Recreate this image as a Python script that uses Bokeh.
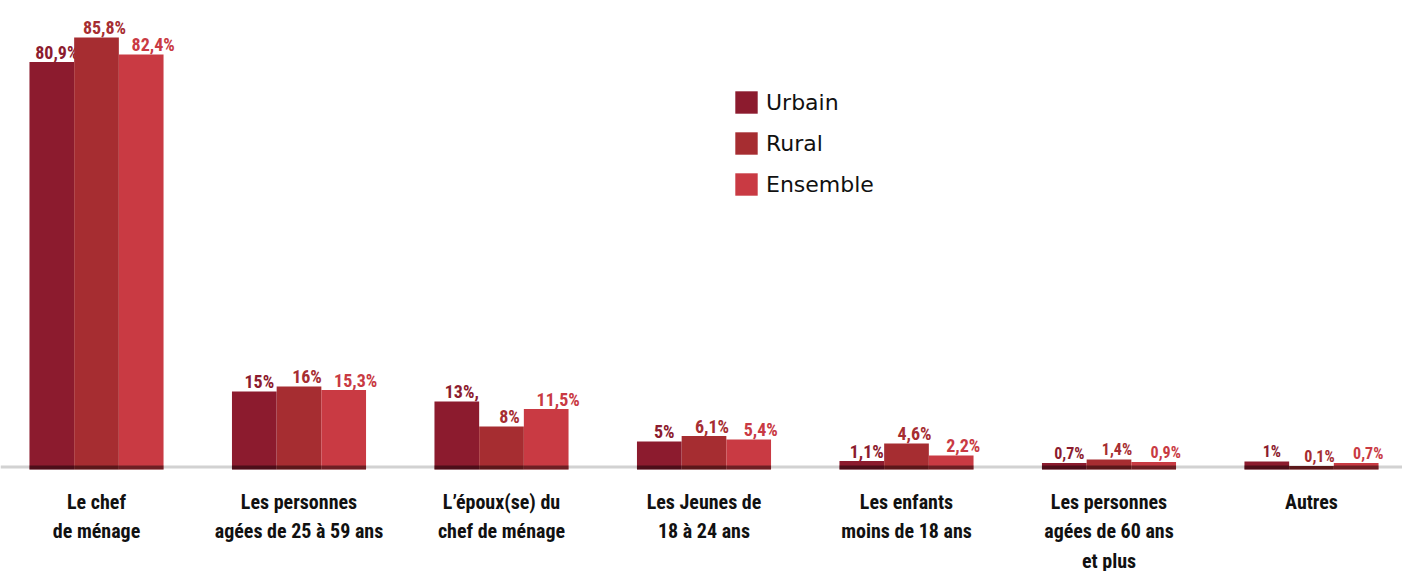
from bokeh.plotting import figure
from bokeh.models import Range1d, ColumnDataSource, Legend, LegendItem, Span
from bokeh.core.properties import value
from bokeh.embed import file_html
from bokeh.resources import INLINE

# ---------------- data ----------------
categories = [
    "Le chef\nde ménage",
    "Les personnes\nagées de 25 à 59 ans",
    "L’époux(se) du\nchef de ménage",
    "Les Jeunes de\n18 à 24 ans",
    "Les enfants\nmoins de 18 ans",
    "Les personnes\nagées de 60 ans\net plus",
    "Autres",
]
series = ["Urbain", "Rural", "Ensemble"]
urbain = [80.9, 15, 13, 5, 1.1, 0.7, 1]
rural = [85.8, 16, 8, 6.1, 4.6, 1.4, 0.1]
ensemble = [82.4, 15.3, 11.5, 5.4, 2.2, 0.9, 0.7]
urbain_labels = ["80,9%", "15%", "13%,", "5%", "1,1%", "0,7%", "1%"]
rural_labels = ["85,8%", "16%", "8%", "6,1%", "4,6%", "1,4%", "0,1%"]
ensemble_labels = ["82,4%", "15,3%", "11,5%", "5,4%", "2,2%", "0,9%", "0,7%"]

# ---------------- styles ----------------
colors = ["#8c1b2e", "#a62d31", "#c93a43"]
label_dx = [5, 8, 12]
COND = "Roboto Condensed"
BAR_W = 0.2207
BAR_BOTTOM = -0.6

p = figure(
    width=1402, height=571,
    x_range=Range1d(-0.4741, 6.4494),
    y_range=Range1d(-21.0, 93.2),
    output_backend="svg", toolbar_location=None,
    min_border=0, outline_line_color=None,
)
p.axis.visible = False
p.grid.visible = False
p.background_fill_color = "white"

# baseline
p.add_layout(Span(location=-0.1, dimension="width", line_color="#d2d2d2",
                  line_width=3, level="underlay"))

values = [urbain, rural, ensemble]
labels = [urbain_labels, rural_labels, ensemble_labels]
idx = list(range(len(categories)))
legend_items = []
for s, (name, vals, labs, col) in enumerate(zip(series, values, labels, colors)):
    xs = [i + (s - 1) * BAR_W for i in idx]
    sizes = ["18px" if i < 5 else "16px" for i in idx]
    src = ColumnDataSource(dict(x=xs, top=vals, lab=labs, size=sizes,
                                band=[min(v, 0.2) for v in vals]))
    r = p.vbar(x="x", top="top", bottom=BAR_BOTTOM, width=BAR_W, source=src,
               fill_color=col, line_color=None)
    p.vbar(x="x", top="band", bottom=BAR_BOTTOM, width=BAR_W, source=src,
           fill_color="black", fill_alpha=0.45, line_color=None)
    p.text(x="x", y="top", text="lab", source=src, x_offset=label_dx[s], y_offset=-10,
           text_align="center", text_baseline="alphabetic",
           text_font=value(COND), text_font_style="bold",
           text_font_size="size", text_color=col)
    legend_items.append(LegendItem(label=name, renderers=[r]))

# category labels (one text per line)
cx, cy, ct, coff = [], [], [], []
for i, c in enumerate(categories):
    for k, line in enumerate(c.split("\n")):
        cx.append(i)
        cy.append(0)
        ct.append(line)
        coff.append(35 + 29.5 * k)
csrc = ColumnDataSource(dict(x=cx, y=cy, t=ct, off=coff))
p.text(x="x", y="y", text="t", y_offset="off", source=csrc,
       text_align="center", text_baseline="alphabetic",
       text_font=value(COND), text_font_style="bold",
       text_font_size="20px", text_color="#111111")

legend = Legend(items=legend_items, location=(732, 373),
                glyph_width=28, glyph_height=28, spacing=13,
                label_standoff=6, padding=0, margin=0,
                label_text_font="DejaVu Sans", label_text_font_size="22px",
                label_text_color="#111111",
                border_line_color=None, background_fill_alpha=0)
p.add_layout(legend)

open("out.html", "w").write(file_html(p, INLINE))
